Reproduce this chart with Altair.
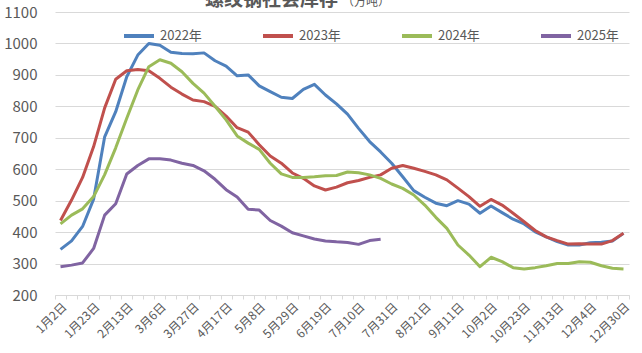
import json
import altair as alt
import pandas as pd

dates = ["1月2日", "1月9日", "1月16日", "1月23日", "1月30日", "2月6日", "2月13日", "2月20日", "2月27日",
         "3月6日", "3月13日", "3月20日", "3月27日", "4月3日", "4月10日", "4月17日", "4月24日",
         "5月1日", "5月8日", "5月15日", "5月22日", "5月29日", "6月5日", "6月12日", "6月19日", "6月26日",
         "7月3日", "7月10日", "7月17日", "7月24日", "7月31日", "8月7日", "8月14日", "8月21日", "8月28日",
         "9月4日", "9月11日", "9月18日", "9月25日", "10月2日", "10月9日", "10月16日", "10月23日", "10月30日",
         "11月6日", "11月13日", "11月20日", "11月27日", "12月4日", "12月11日", "12月18日", "12月30日"]

shown_labels = ["1月2日", "1月23日", "2月13日", "3月6日", "3月27日", "4月17日", "5月8日", "5月29日",
                "6月19日", "7月10日", "7月31日", "8月21日", "9月11日", "10月2日", "10月23日",
                "11月13日", "12月4日", "12月30日"]

v2022 = [345, 372, 418, 505, 703, 783, 894, 963, 1000, 994, 972, 968, 967, 970, 945, 928, 897, 900,
         865, 847, 829, 825, 854, 870, 836, 808, 775, 730, 688, 655, 619, 576, 532, 511, 492, 484,
         500, 489, 460, 483, 462, 441, 426, 401, 385, 370, 359, 359, 366, 368, 372, 396]
v2023 = [437, 502, 574, 672, 795, 886, 913, 917, 913, 889, 861, 839, 820, 815, 800, 769, 732, 718,
         678, 642, 619, 588, 571, 547, 534, 543, 557, 564, 574, 582, 603, 612, 603, 593, 582, 566,
         540, 513, 482, 504, 486, 460, 433, 405, 385, 373, 362, 363, 362, 362, 373, 396]
v2024 = [426, 454, 474, 513, 583, 668, 762, 852, 926, 948, 937, 910, 873, 842, 800, 757, 706, 683,
         663, 619, 585, 574, 574, 576, 579, 580, 591, 589, 582, 571, 553, 539, 518, 486, 447, 412,
         359, 327, 290, 320, 306, 287, 283, 287, 293, 300, 300, 306, 304, 293, 285, 283]
v2025 = [290, 295, 302, 348, 454, 490, 585, 612, 633, 633, 629, 619, 612, 595, 568, 535, 512, 473,
         470, 437, 419, 398, 388, 378, 372, 369, 367, 361, 373, 377]

years = ["2022年", "2023年", "2024年", "2025年"]
colors = ["#4F81BD", "#C0504D", "#9BBB59", "#8064A2"]
y_ticks = [200, 300, 400, 500, 600, 700, 800, 900, 1000, 1100]

FONT = "Noto Sans CJK SC"
GRAY = "#595959"

rows = []
for yr, vals in zip(years, [v2022, v2023, v2024, v2025]):
    for d, v in zip(dates, vals):
        rows.append({"date": d, "year": yr, "value": v})
df = pd.DataFrame(rows)

label_expr = ("indexof(" + json.dumps(shown_labels, ensure_ascii=False) +
              ", datum.value) >= 0 ? datum.value : ''")

lines = alt.Chart(df).mark_line(strokeWidth=3, strokeJoin="round").encode(
    x=alt.X("date:N", sort=dates, title=None,
            scale=alt.Scale(type="band", paddingInner=0, paddingOuter=0),
            axis=alt.Axis(labelExpr=label_expr, labelAngle=-45, labelFontSize=12,
                          labelFont=FONT, labelColor=GRAY, labelAlign="right",
                          labelBaseline="top", labelPadding=2,
                          tickBand="extent", tickColor="#d9d9d9", tickSize=4,
                          domainColor="#d9d9d9", domainWidth=1, grid=False,
                          labelOverlap=False)),
    y=alt.Y("value:Q", title=None,
            scale=alt.Scale(domain=[200, 1100], nice=False, zero=False),
            axis=alt.Axis(values=y_ticks, format="d", ticks=False, domain=False, grid=True,
                          gridColor="#d9d9d9", gridWidth=1, labelFontSize=15,
                          labelFont=FONT, labelColor=GRAY, labelPadding=18)),
    color=alt.Color("year:N", scale=alt.Scale(domain=years, range=colors),
                    legend=alt.Legend(title=None, orient="none", legendX=67, legendY=7,
                                      direction="horizontal", columns=4,
                                      symbolType="stroke", symbolSize=900,
                                      symbolStrokeWidth=4, labelFontSize=13,
                                      labelFont=FONT, labelColor=GRAY,
                                      labelOffset=4, columnPadding=53)),
)

title_df = pd.DataFrame({"big": ["螺纹钢社会库存"], "small": ["（万吨）"]})
t_big = alt.Chart(title_df).mark_text(align="left", baseline="alphabetic", fontSize=19,
                                      fontWeight="bold", color=GRAY, font=FONT).encode(
    text="big:N", x=alt.value(150), y=alt.value(-6))
t_small = alt.Chart(title_df).mark_text(align="left", baseline="alphabetic", fontSize=12,
                                        color=GRAY, font=FONT).encode(
    text="small:N", x=alt.value(287), y=alt.value(-6))

chart = alt.layer(lines, t_big, t_small).properties(
    width=574, height=283,
    padding={"left": 55, "top": 12, "right": 13, "bottom": 58},
    autosize=alt.AutoSizeParams(type="none"),
    background="white",
).configure_view(stroke=None)

chart.save("out.html", embed_options={"renderer": "svg", "actions": False})
